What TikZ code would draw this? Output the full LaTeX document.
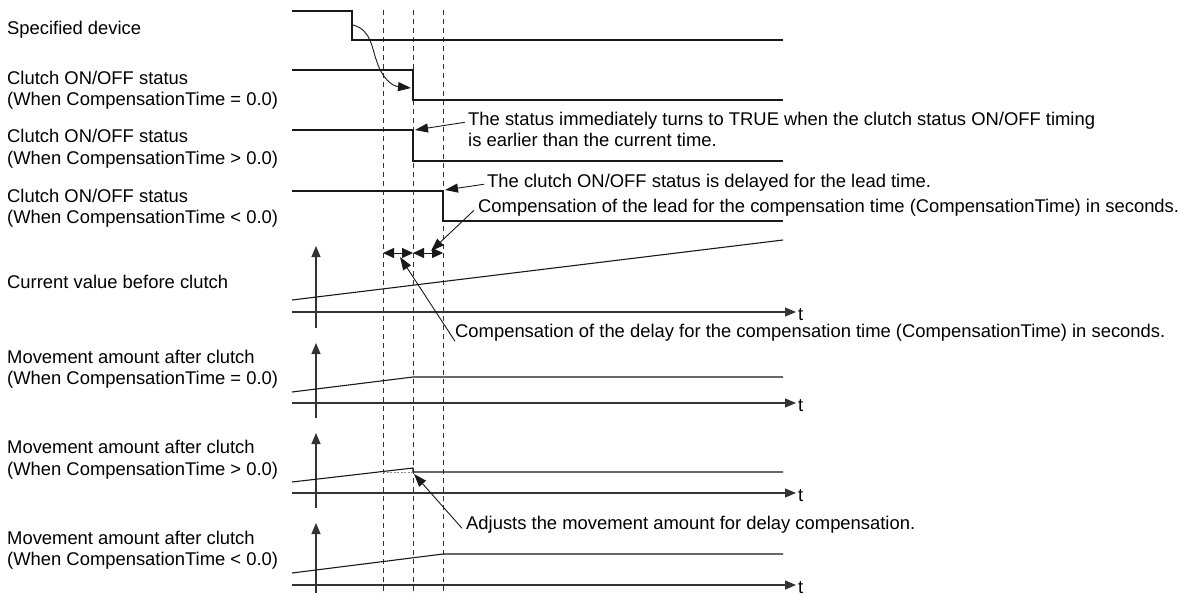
\documentclass[tikz,border=0pt]{standalone}
\usepackage{fontspec}
\setmainfont{Liberation Sans}
\usetikzlibrary{arrows.meta}
\begin{document}
\begin{tikzpicture}[x=1pt,y=-1pt,
  lbl/.style={anchor=base west,inner sep=0pt,font=\fontsize{18.4}{21}\selectfont},
  sig/.style={line width=1.6pt,black!90},
  guide/.style={line width=0.9pt,black!80,dash pattern=on 5pt off 4pt},
  axis/.style={line width=1.1pt,black!80,-{Triangle[length=11pt,width=9pt]}},
  ann/.style={line width=0.9pt,black!90,-{Triangle[length=13pt,width=9pt]}},
  dbl/.style={line width=1pt,black!90,{Triangle[length=11pt,width=10pt]}-{Triangle[length=11pt,width=10pt]}}]
\useasboundingbox (0,0) rectangle (1190,595);
% left labels
\node[lbl] (l1) at (7,34) {Specified device};
\node[lbl] (l2a) at (7,84) {Clutch ON/OFF status};
\node[lbl] (l2b) at (7,105) {(When CompensationTime = 0.0)};
\node[lbl] (l3a) at (7,142) {Clutch ON/OFF status};
\node[lbl] (l3b) at (7,164) {(When CompensationTime > 0.0)};
\node[lbl] (l4a) at (7,202) {Clutch ON/OFF status};
\node[lbl] (l4b) at (7,223) {(When CompensationTime < 0.0)};
\node[lbl] (l5) at (7,288) {Current value before clutch};
\node[lbl] (l6a) at (7,363) {Movement amount after clutch};
\node[lbl] (l6b) at (7,384) {(When CompensationTime = 0.0)};
\node[lbl] (l7a) at (7,453) {Movement amount after clutch};
\node[lbl] (l7b) at (7,475) {(When CompensationTime > 0.0)};
\node[lbl] (l8a) at (7,544) {Movement amount after clutch};
\node[lbl] (l8b) at (7,565) {(When CompensationTime < 0.0)};
% guide lines
\foreach \x in {383,413,443} \draw[guide] (\x,10) -- (\x,595);
% signals
\draw[sig] (292,11) -- (352,11) -- (352,40) -- (783,40);
\draw[sig] (292,70) -- (413,70) -- (413,100) -- (783,100);
\draw[sig] (292,130) -- (413,130) -- (413,161) -- (783,161);
\draw[sig] (292,191) -- (443,191) -- (443,221) -- (783,221);
% curved arrow
\coordinate (c0) at (353,25);
\coordinate (c1) at (411,88);
\draw[ann] (c0) .. controls (372,30) and (372,50) .. (377,62) .. controls (382,78) and (392,86) .. (c1);
% annotations upper
\node[lbl] (a1) at (468,125) {The status immediately turns to TRUE when the clutch status ON/OFF timing};
\node[lbl] (a1b) at (468,146) {is earlier than the current time.};
\coordinate (p1) at (415,130);
\draw[ann] ([xshift=-3pt,yshift=-2pt]a1.west) -- (p1);
\node[lbl] (a2) at (487,187) {The clutch ON/OFF status is delayed for the lead time.};
\coordinate (p2) at (445,190);
\draw[ann] ([xshift=-3pt,yshift=-2pt]a2.west) -- (p2);
\node[lbl] (a3) at (478,212) {Compensation of the lead for the compensation time (CompensationTime) in seconds.};
\coordinate (p3) at (431,251);
\draw[ann] ([xshift=-4pt,yshift=-3pt]a3.west) -- (p3);
% double arrows
\coordinate (d1) at (383,253);
\coordinate (d2) at (413,253);
\coordinate (d3) at (443,253);
\draw[dbl] (d1) -- (d2);
\draw[dbl] (d2) -- (d3);
% current value
\coordinate (o5) at (316,328);
\coordinate (y5) at (316,246);
\coordinate (t5s) at (292,312);
\coordinate (t5e) at (796,312);
\draw[axis] (o5) -- (y5);
\draw[axis] (t5s) -- (t5e);
\node[lbl] (t5) at (798,320) {t};
\draw[line width=1.1pt,black!90] (292,300) -- (783,240);
\node[lbl] (a4) at (455,337) {Compensation of the delay for the compensation time (CompensationTime) in seconds.};
\coordinate (p4) at (400,257);
\draw[ann] ([xshift=0pt,yshift=-9pt]a4.west) -- (p4);
% movement = 0
\draw[axis] (316,418) -- (316,343);
\draw[axis] (292,403) -- (796,403);
\node[lbl] (t6) at (798,411) {t};
\draw[line width=1.1pt,black!90] (292,392) -- (413,377) -- (783,377);
% movement > 0
\draw[axis] (316,508) -- (316,433);
\draw[axis] (292,493) -- (796,493);
\node[lbl] (t7) at (798,501) {t};
\draw[line width=1.1pt,black!90] (292,482) -- (413,468) -- (413,472) -- (783,472);
\draw[line width=0.8pt,black!45,dash pattern=on 2pt off 1.5pt] (383,472) -- (413,472);
\node[lbl] (a5) at (466,529) {Adjusts the movement amount for delay compensation.};
\coordinate (p5) at (414,474);
\draw[ann] ([xshift=-4pt,yshift=-4pt]a5.west) -- (p5);
% movement < 0
\draw[axis] (316,593) -- (316,523);
\draw[axis] (292,585) -- (796,585);
\node[lbl] (t8) at (798,593) {t};
\draw[line width=1.1pt,black!90] (292,573) -- (443,554) -- (783,554);
\end{tikzpicture}
\end{document}
